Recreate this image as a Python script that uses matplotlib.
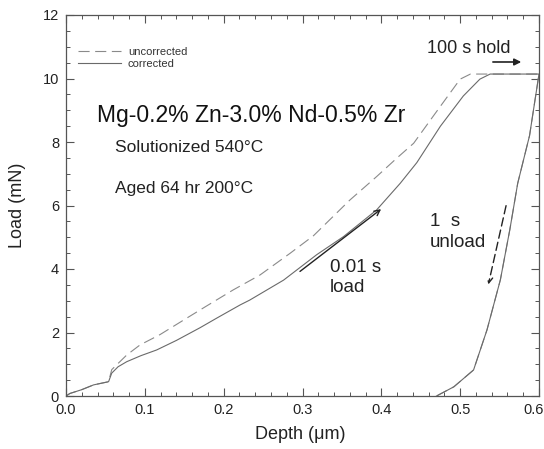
import matplotlib
matplotlib.use("Agg")
import matplotlib.pyplot as plt
import matplotlib.transforms as mtransforms
from matplotlib.ticker import MultipleLocator

plt.rcParams['font.family'] = ['Liberation Sans', 'DejaVu Sans']

# Corrected curve (solid): loading, hold, unloading
corr_x = [0.0, 0.005, 0.02, 0.035, 0.054, 0.058, 0.066, 0.077, 0.095, 0.115, 0.14, 0.17,
          0.191, 0.221, 0.233, 0.276, 0.318, 0.352, 0.394, 0.424, 0.445, 0.475, 0.504,
          0.525, 0.538, 0.6,
          0.6, 0.588, 0.573, 0.563, 0.551, 0.534, 0.517, 0.492, 0.47]
corr_y = [0.0, 0.08, 0.2, 0.35, 0.45, 0.72, 0.92, 1.08, 1.27, 1.45, 1.75, 2.15,
          2.45, 2.87, 3.02, 3.65, 4.45, 5.02, 5.86, 6.7, 7.35, 8.5, 9.45,
          9.98, 10.14, 10.14,
          10.14, 8.2, 6.7, 5.24, 3.66, 2.08, 0.82, 0.29, 0.0]

# Uncorrected curve (dashed)
unc_x = [0.0, 0.005, 0.02, 0.035, 0.054, 0.058, 0.077, 0.094, 0.119, 0.153, 0.176,
         0.212, 0.246, 0.284, 0.314, 0.36, 0.394, 0.42, 0.441, 0.466, 0.5, 0.513, 0.6,
         0.6, 0.588, 0.573, 0.563, 0.551, 0.534, 0.517, 0.492, 0.47]
unc_y = [0.0, 0.08, 0.2, 0.35, 0.45, 0.83, 1.29, 1.61, 1.93, 2.45, 2.8,
         3.34, 3.81, 4.49, 5.05, 6.17, 6.91, 7.5, 7.96, 8.82, 9.98, 10.14, 10.14,
         10.14, 8.2, 6.7, 5.24, 3.66, 2.08, 0.82, 0.29, 0.0]

x_ticks = [0, 0.1, 0.2, 0.3, 0.4, 0.5, 0.6]
x_ticklabels = ['0.0', '0.1', '0.2', '0.3', '0.4', '0.5', '0.6']

fig = plt.figure(figsize=(5.44, 4.49), dpi=100)
ax = fig.add_axes([66/544, 53/449, 473/544, 381/449])

ax.plot(unc_x, unc_y, color='#8a8a8a', lw=0.8, linestyle=(0, (10, 5)), label='uncorrected')
ax.plot(corr_x, corr_y, color='#6a6a6a', lw=0.8, linestyle='-', label='corrected')

ax.set_xlim(0, 0.6)
ax.set_ylim(0, 12)
ax.xaxis.set_minor_locator(MultipleLocator(0.02))
ax.yaxis.set_major_locator(MultipleLocator(2))
ax.yaxis.set_minor_locator(MultipleLocator(0.5))
ax.set_xticks(x_ticks)
ax.set_xticklabels(x_ticklabels)
ax.tick_params(which='both', direction='in', top=True, right=True, color='#555555')
ax.tick_params(which='major', length=6, width=0.8, labelsize=10.5, labelcolor='#222222', pad=5)
ax.tick_params(which='minor', length=3, width=0.7)
for s in ax.spines.values():
    s.set_color('#555555')
    s.set_linewidth(0.9)

# nudge the last x tick label so it stays inside the figure
last = ax.get_xticklabels()[-1]
last.set_transform(last.get_transform() + mtransforms.ScaledTranslation(-5/100, 0, fig.dpi_scale_trans))

ax.set_xlabel('Depth (μm)', fontsize=13, color='#222222')
ax.set_ylabel('Load (mN)', fontsize=13, color='#222222')
ax.xaxis.set_label_coords(0.495, -0.08)
ax.yaxis.set_label_coords(-0.085, 0.5)

leg = ax.legend(loc='upper left', bbox_to_anchor=(0.025, 0.915), frameon=False,
                fontsize=8, handlelength=3.9, handletextpad=0.6, labelspacing=0.15,
                borderpad=0, borderaxespad=0)
for t in leg.get_texts():
    t.set_color('#333333')

ax.text(0.0393, 8.85, 'Mg-0.2% Zn-3.0% Nd-0.5% Zr', fontsize=16.5, va='center', ha='left', color='#111111')
ax.text(0.0622, 7.84, 'Solutionized 540°C', fontsize=12.5, va='center', ha='left', color='#222222')
ax.text(0.0622, 6.55, 'Aged 64 hr 200°C', fontsize=12.5, va='center', ha='left', color='#222222')
ax.text(0.335, 4.06, '0.01 s', fontsize=13.5, va='center', ha='left', color='#222222')
ax.text(0.335, 3.43, 'load', fontsize=13.5, va='center', ha='left', color='#222222')
ax.text(0.462, 5.5, '1  s', fontsize=13.5, va='center', ha='left', color='#222222')
ax.text(0.462, 4.85, 'unload', fontsize=13.5, va='center', ha='left', color='#222222')
ax.text(0.458, 10.93, '100 s hold', fontsize=13, va='center', ha='left', color='#222222')

ax.annotate('', xy=(0.4025, 5.94), xytext=(0.294, 3.87),
            arrowprops=dict(arrowstyle='->', color='#222222', lw=1.0))
ax.annotate('', xy=(0.581, 10.52), xytext=(0.538, 10.52),
            arrowprops=dict(arrowstyle='-|>', color='#222222', lw=1.2, mutation_scale=10))
ax.annotate('', xy=(0.535, 3.43), xytext=(0.559, 6.08),
            arrowprops=dict(arrowstyle='->', color='#222222', lw=1.0, linestyle=(0, (6, 3))))

fig.savefig('out.png', dpi=100)
